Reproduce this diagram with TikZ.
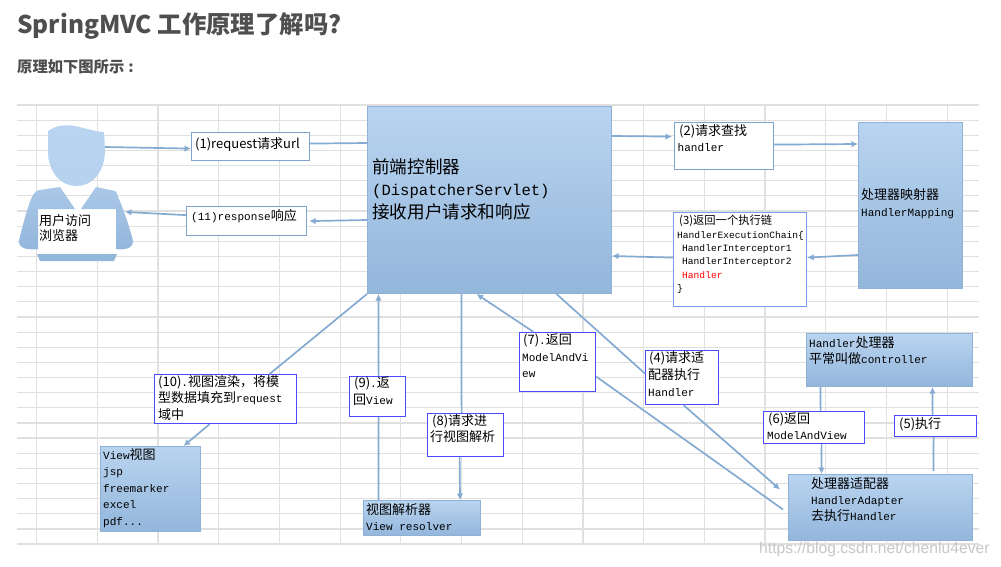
\documentclass[tikz,border=0pt]{standalone}
\usepackage{fontspec}
\setmainfont{Noto Sans CJK SC}
\setmonofont[Scale=0.85]{Liberation Mono}
\newfontfamily\urlfont{Liberation Sans}
\usepackage{xcolor}
\usetikzlibrary{positioning, arrows.meta, calc}
\definecolor{gridGray}{HTML}{E0E0E0}
\definecolor{headText}{HTML}{4F4F4F}
\definecolor{flowBlue}{HTML}{85ABD3}
\definecolor{edgeBlue}{HTML}{8FB1D6}
\definecolor{gradTop}{HTML}{B9D4F0}
\definecolor{gradBottom}{HTML}{93B6DB}
\definecolor{noteSteel}{HTML}{7FA3CC}
\definecolor{noteSoft}{HTML}{7C9CF0}
\definecolor{noteBlue}{HTML}{4A4AFF}
\tikzset{
  gradbox/.style={rectangle, anchor=north west, inner sep=0pt, draw=edgeBlue, line width=1pt, top color=gradTop, bottom color=gradBottom},
  notebox/.style={rectangle, anchor=north west, inner sep=0pt, draw=noteBlue, line width=1.2pt, fill=white},
  txt/.style={anchor=north west, inner sep=0pt, align=left, text=black, font=\fontsize{13}{16}\selectfont},
  flow/.style={draw=flowBlue, line width=1.7pt, -{Latex[length=6.5pt,width=6.5pt]}},
  link/.style={draw=flowBlue, line width=1.7pt},
}
\begin{document}
\begin{tikzpicture}[x=1pt, y=-1pt]
  \useasboundingbox (0,0) rectangle (1001,567);
  \fill[white] (0,0) rectangle (1001,567);
  % sheet
  \foreach \i in {0,...,29}
    \draw[gridGray, line width=1.2pt] (17,{105+\i*15.14}) -- (979,{105+\i*15.14});
  \foreach \i in {0,...,15}
    \draw[gridGray, line width=1.2pt] ({36.6+\i*60.7},105) -- ({36.6+\i*60.7},544);
  % headings
  \node[anchor=west, inner sep=0pt, text=headText, font=\fontsize{24.4}{28}\selectfont\bfseries] (title) at (17,25.5) {SpringMVC 工作原理了解吗?};
  \node[anchor=west, inner sep=0pt, text=headText, font=\fontsize{15.3}{18}\selectfont\bfseries] (subtitle) at (17,67) {原理如下图所示\hspace{4pt}:};
  % user figure
  \fill[white] (38,209) rectangle (116,254);
  \shade[top color=gradTop, bottom color=gradTop!92!gradBottom] (48,131) .. controls (58,124) and (70,124) .. (83,128) .. controls (92,130) and (98,132) .. (104,132) -- (105,150) .. controls (105,172) and (92,186) .. (77,186) .. controls (60,186) and (48,172) .. (48,150) -- cycle;
  \shade[top color=gradTop!60!gradBottom, bottom color=gradBottom] (60,187) -- (75,209) -- (38,209) -- (38,249) .. controls (28,250) and (19,249) .. (19,241) .. controls (22,228) and (28,205) .. (32,197) .. controls (34,192) and (38,190) .. (40,190) -- cycle;
  \shade[top color=gradTop!60!gradBottom, bottom color=gradBottom] (96,187) -- (81,209) -- (116,209) -- (116,249) .. controls (124,250) and (133,249) .. (133,241) .. controls (130,228) and (122,205) .. (118,197) .. controls (117,193) and (116,191) .. (115,191) -- cycle;
  \fill[gradBottom] (37,254) -- (117,254) -- (114,261) -- (40,261) -- cycle;
  \coordinate (userHead) at (105,147);
  \coordinate (userBody) at (125,212);
  \node[txt, font=\fontsize{13}{15}\selectfont] (userText) at (39,214) {用户访问\\浏览器};
  % blue blocks
  \node[gradbox, minimum width=244pt, minimum height=187pt] (dispatcher) at (367,106) {};
  \node[txt, font=\fontsize{17.6}{22.5}\selectfont] (dispatcherText) at (372,158) {前端控制器\\{\fontsize{18.3}{22.5}\selectfont\texttt{(DispatcherServlet)}}\\接收用户请求和响应};
  \node[gradbox, minimum width=104pt, minimum height=166pt] (mapping) at (858,122) {};
  \node[txt, font=\fontsize{13}{17}\selectfont] (mappingText) at (861,188) {处理器映射器\\\texttt{HandlerMapping}};
  \node[gradbox, minimum width=100pt, minimum height=85pt] (view) at (100,446) {};
  \node[txt, font=\fontsize{13}{16.5}\selectfont] (viewText) at (103,448) {\texttt{View}视图\\\texttt{jsp}\\\texttt{freemarker}\\\texttt{excel}\\\texttt{pdf...}};
  \node[gradbox, minimum width=117pt, minimum height=35pt] (resolver) at (363,500) {};
  \node[txt] (resolverText) at (366,503) {视图解析器\\\texttt{View resolver}};
  \node[gradbox, minimum width=166pt, minimum height=53pt] (handler) at (806,333) {};
  \node[txt] (handlerText) at (809,336) {\texttt{Handler}处理器\\平常叫做\texttt{controller}};
  \node[gradbox, minimum width=184pt, minimum height=66pt] (adapter) at (788,474) {};
  \node[txt] (adapterText) at (811,477) {处理器适配器\\\texttt{HandlerAdapter}\\去执行\texttt{Handler}};
  % notes
  \node[notebox, draw=noteSteel, minimum width=118pt, minimum height=28pt] (reqNote) at (191,132) {};
  \node[txt] (reqText) at (195,137) {(1)request请求url};
  \node[notebox, draw=noteSteel, minimum width=120pt, minimum height=29pt] (respNote) at (186,206) {};
  \node[txt] (respText) at (191,209) {\texttt{(11)response}响应};
  \node[notebox, draw=noteSteel, minimum width=99pt, minimum height=47pt] (findNote) at (674,122) {};
  \node[txt] (findText) at (677.5,124) {\hspace{1.5pt}(2)请求查找\\\texttt{handler}};
  \node[notebox, draw=noteSoft, minimum width=133pt, minimum height=94pt] (chainNote) at (673,212) {};
  \node[txt, font=\fontsize{11.3}{13.4}\selectfont] (chainText) at (677,215) {\hspace{2pt}(3)返回一个执行链\\\texttt{HandlerExecutionChain\{}\\\hspace{5pt}\texttt{HandlerInterceptor1}\\\hspace{5pt}\texttt{HandlerInterceptor2}\\\hspace{5pt}\textcolor{red}{\texttt{Handler}}\\\texttt{\}}};
  \node[notebox, minimum width=142pt, minimum height=49pt] (renderNote) at (154,374) {};
  \node[txt, font=\fontsize{13}{16.5}\selectfont] (renderText) at (158,375) {(10)\texttt{.}视图渲染\symbol{"FF0C}将模\\型数据填充到\texttt{request}\\域中};
  \node[notebox, minimum width=56pt, minimum height=40pt] (viewNote) at (349,376) {};
  \node[txt, font=\fontsize{13}{17}\selectfont] (viewNoteText) at (353,377) {\hspace{1pt}(9)\texttt{.}返\\回\texttt{View}};
  \node[notebox, minimum width=76pt, minimum height=43pt] (parseNote) at (427,413) {};
  \node[txt] (parseText) at (430,414) {\hspace{2pt}(8)请求进\\行视图解析};
  \node[notebox, minimum width=76pt, minimum height=59pt] (modelNote) at (519,332) {};
  \node[txt, font=\fontsize{13}{16.5}\selectfont] (modelText) at (522,334) {\hspace{1pt}(7)\texttt{.}返回\\\texttt{ModelAndVi}\\\texttt{ew}};
  \node[notebox, minimum width=73pt, minimum height=54pt] (adaptNote) at (645,350) {};
  \node[txt, font=\fontsize{13}{17}\selectfont] (adaptText) at (648,351) {\hspace{1pt}(4)请求适\\配器执行\\\texttt{Handler}};
  \node[notebox, minimum width=101pt, minimum height=32pt] (returnNote) at (763,411) {};
  \node[txt] (returnText) at (767,413) {\hspace{1pt}(6)返回\\\texttt{ModelAndView}};
  \node[notebox, minimum width=82pt, minimum height=21pt] (execNote) at (894,415) {};
  \node[txt] (execText) at (899,417) {(5)执行};
  % connectors, top row
  \draw[flow] (userHead) -- ([yshift=-2pt]reqNote.west);
  \draw[link] ([yshift=3pt]reqNote.east) -- ([yshift=-37pt]dispatcher.north west);
  \draw[flow] ([yshift=-30pt]dispatcher.north east) -- ([xshift=-2pt,yshift=9.5pt]findNote.west);
  \draw[flow] ([yshift=1.5pt]findNote.east) -- ([yshift=-22pt]mapping.north west);
  \draw[flow] ([yshift=-133pt]mapping.north west) -- ([yshift=2pt]chainNote.east);
  \draw[flow] ([yshift=2pt]chainNote.west) -- ([yshift=-150pt]dispatcher.north east);
  \draw[flow] ([yshift=-114pt]dispatcher.north west) -- ([xshift=2pt]respNote.east);
  \draw[flow] ([yshift=6pt]respNote.west) -- (userBody);
  % connectors, lower part
  \draw[link] (dispatcher.south west) -- ([xshift=44pt]renderNote.north);
  \draw[flow] ([xshift=-16pt]renderNote.south) -- ([xshift=33pt]view.north);
  \draw[link] ([xshift=-43.5pt]resolver.north) -- ([xshift=1pt]viewNote.south);
  \draw[flow] ([xshift=1pt]viewNote.north) -- ([xshift=-111pt]dispatcher.south);
  \draw[link] ([xshift=-28pt]dispatcher.south) -- ([xshift=-4pt]parseNote.north);
  \draw[flow] ([xshift=-6pt]parseNote.south) -- ([xshift=38pt]resolver.north);
  \draw[link] ([xshift=-5pt,yshift=-2pt]adapter.west) -- ([yshift=-14.5pt]modelNote.east);
  \draw[flow] ([xshift=-24pt]modelNote.north) -- ([xshift=-13pt]dispatcher.south);
  \draw[link] ([xshift=67pt]dispatcher.south) -- ([yshift=4pt]adaptNote.west);
  \draw[flow] ([xshift=1.5pt]adaptNote.south) -- ([xshift=-8pt,yshift=18pt]adapter.west);
  \draw[link] ([xshift=-69pt]handler.south) -- ([xshift=6.5pt]returnNote.north);
  \draw[flow] ([xshift=7.5pt]returnNote.south) -- ([xshift=-59pt]adapter.north);
  \draw[link] ([xshift=53pt,yshift=3pt]adapter.north) -- ([xshift=-2pt]execNote.south);
  \draw[flow] ([xshift=-3pt]execNote.north) -- ([xshift=43pt]handler.south);
  % page mark
  \node[anchor=west, inner sep=0pt, text=black!22, font=\urlfont\fontsize{15.7}{18}\selectfont] (pageMark) at (759,549) {https://blog.csdn.net/chenlu4ever};
\end{tikzpicture}
\end{document}
